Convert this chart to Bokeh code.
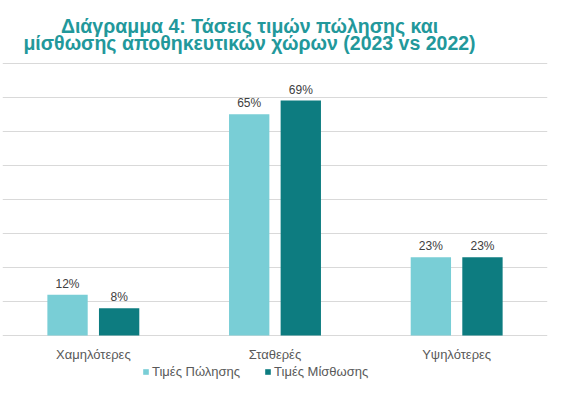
from bokeh.plotting import figure
from bokeh.models import (ColumnDataSource, FactorRange, Range1d, LabelSet, Label,
                          Legend, FixedTicker)
from bokeh.core.properties import value
from bokeh.transform import dodge
from bokeh.embed import file_html
from bokeh.resources import INLINE

# Data
categories = ["Χαμηλότερες", "Σταθερές", "Υψηλότερες"]
sale = [12, 65, 23]   # Τιμές Πώλησης
rent = [8, 69, 23]    # Τιμές Μίσθωσης
series_names = ["Τιμές Πώλησης", "Τιμές Μίσθωσης"]
grid_ticks = [0, 10, 20, 30, 40, 50, 60, 70, 80]
title_lines = ["Διάγραμμα 4: Τάσεις τιμών πώλησης και",
               "μίσθωσης αποθηκευτικών χώρων (2023 vs 2022)"]

FONT = "Liberation Sans"
light = "#79CED6"
dark = "#0D7C80"
title_color = "#22989B"

source = ColumnDataSource(data=dict(
    cat=categories,
    sale=sale,
    rent=rent,
    zero=[0] * len(categories),
    sale_lbl=[f"{v}%" for v in sale],
    rent_lbl=[f"{v}%" for v in rent],
))

# plot frame fills the whole height so title, category names and legend
# can all sit inside it (annotations outside the frame get clipped)
p = figure(x_range=FactorRange(factors=categories, range_padding=0),
           y_range=Range1d(-19.09, 98.38),
           width=564, height=400,
           min_border_left=2, min_border_right=17,
           min_border_top=0, min_border_bottom=0,
           output_backend="svg", toolbar_location=None)

p.outline_line_color = None
p.background_fill_color = "white"
p.border_fill_color = "white"

# bars
off = 0.142
bw = 0.222
r1 = p.vbar(x=dodge('cat', -off, range=p.x_range), top='sale', width=bw, source=source,
            color=light, line_color=None)
r2 = p.vbar(x=dodge('cat', off, range=p.x_range), top='rent', width=bw, source=source,
            color=dark, line_color=None)

# value labels
for col, lbl, d in [("sale", "sale_lbl", -off), ("rent", "rent_lbl", off)]:
    p.add_layout(LabelSet(x=dodge('cat', d, range=p.x_range), y=col, text=lbl, source=source,
                          text_align="center", text_baseline="bottom", y_offset=4,
                          text_font=value(FONT), text_font_size="12px", text_color="#404040"))

# category names under the baseline
p.add_layout(LabelSet(x='cat', y='zero', text='cat', source=source,
                      text_align="center", text_baseline="middle", y_offset=-19,
                      text_font=value(FONT), text_font_size="13px", text_color="#595959"))

# axes / grid
p.yaxis.ticker = FixedTicker(ticks=grid_ticks)
p.yaxis.visible = False
p.xaxis.visible = False
p.ygrid.grid_line_color = "#D9D9D9"
p.ygrid.grid_line_width = 1
p.xgrid.grid_line_color = None

# legend under the category names
legend = Legend(items=[(series_names[0], [r1]), (series_names[1], [r2])],
                orientation="horizontal", location=(140, 21),
                padding=0, margin=0, spacing=24,
                glyph_width=7, glyph_height=7, label_standoff=3, label_height=14,
                border_line_color=None, background_fill_alpha=0,
                label_text_font=FONT, label_text_font_size="13px",
                label_text_color="#595959")
p.add_layout(legend)

# two-line title, centred a little left of the plot middle
for txt, y in zip(title_lines, [375, 358]):
    p.add_layout(Label(x=247, y=y, x_units="screen", y_units="screen", text=txt,
                       text_align="center", text_baseline="alphabetic",
                       text_font=FONT, text_font_size="19.5px", text_font_style="bold",
                       text_color=title_color))

open("out.html", "w").write(file_html(p, INLINE))
